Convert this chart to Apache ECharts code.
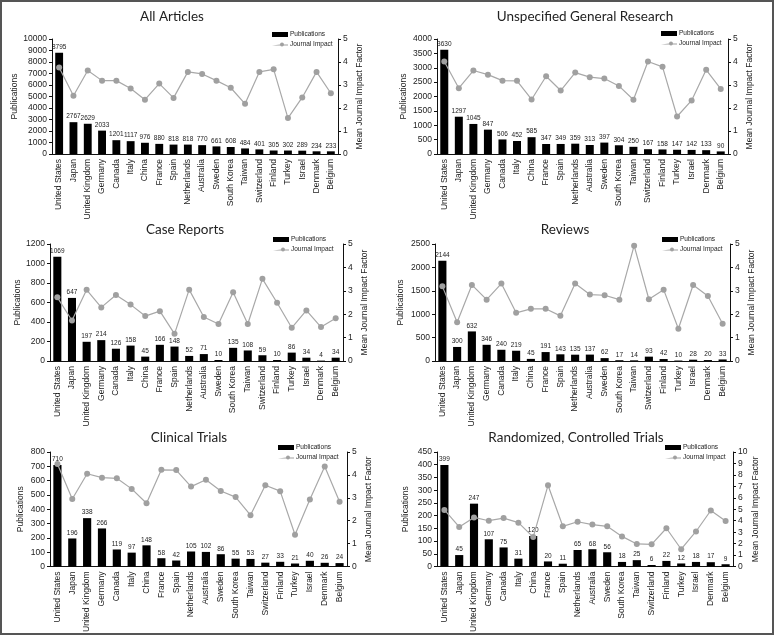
<!DOCTYPE html>
<html><head><meta charset="utf-8">
<script src="https://cdn.jsdelivr.net/npm/echarts@6/dist/echarts.min.js"></script>
<style>
html,body{margin:0;padding:0;background:#fff;}
#frame{position:absolute;left:0;top:0;width:770px;height:631px;border:2px solid #555;}
#c{position:absolute;left:0;top:0;width:774px;height:635px;}
</style></head><body>
<div id="c"></div><div id="frame"></div>
<script>
const countries = ["United States","Japan","United Kingdom","Germany","Canada","Italy","China","France","Spain","Netherlands","Australia","Sweden","South Korea","Taiwan","Switzerland","Finland","Turkey","Israel","Denmark","Belgium"];

const titles = ["All Articles","Unspecified General Research","Case Reports","Reviews","Clinical Trials","Randomized, Controlled Trials"];

const pubAll = [8795,2767,2629,2033,1201,1117,976,880,818,818,770,661,608,484,401,305,302,289,234,233];
const impAll = [3.76,2.53,3.63,3.19,3.19,2.85,2.36,3.06,2.44,3.57,3.48,3.19,2.88,2.18,3.57,3.68,1.56,2.46,3.57,2.64];

const pubGen = [3630,1297,1045,847,506,452,585,347,349,359,313,397,304,250,167,158,147,142,133,90];
const impGen = [4.02,2.86,3.63,3.45,3.19,3.18,2.37,3.38,2.76,3.54,3.34,3.28,2.96,2.36,4.02,3.79,1.63,2.33,3.66,2.83];

const pubCase = [1069,647,197,214,126,158,45,166,148,52,71,10,135,108,59,10,86,34,4,34];
const impCase = [2.72,1.73,3.04,2.29,2.82,2.41,1.92,2.13,1.16,3.05,1.88,1.58,2.94,1.58,3.51,2.49,1.42,2.16,1.45,1.83];

const pubRev = [2144,300,632,346,240,219,45,191,143,135,137,62,17,14,93,42,10,28,20,33];
const impRev = [3.19,1.66,3.25,2.62,3.31,2.06,2.23,2.23,1.93,3.31,2.84,2.81,2.62,4.93,2.64,3.05,1.38,3.25,2.78,1.59];

const pubClin = [710,196,338,266,119,97,148,58,42,105,102,86,55,53,27,33,21,40,26,24];
const impClin = [4.48,2.95,4.05,3.88,3.85,3.39,2.76,4.22,4.21,3.49,3.79,3.30,3.03,2.24,3.55,3.29,1.39,2.93,4.37,2.83];

const pubRct = [399,45,247,107,75,31,120,20,11,65,68,56,18,25,6,22,12,18,17,9];
const impRct = [4.94,3.46,4.29,4.0,4.23,3.83,2.57,7.09,3.51,3.91,3.66,3.51,2.63,1.97,1.94,3.34,1.51,3.06,4.89,3.97];

const leftMax = [10000,4000,1200,2500,800,450];
const leftInt = [1000,500,200,500,100,50];
const rightMax = [5,5,5,5,5,10];
const rightInt = [1,1,1,1,1,1];

const pubs = [pubAll,pubGen,pubCase,pubRev,pubClin,pubRct];
const imps = [impAll,impGen,impCase,impRev,impClin,impRct];

// layout
const grids = [
  {left:52, top:39, width:286, height:115},
  {left:437, top:39, width:291, height:115},
  {left:50, top:244, width:293, height:117},
  {left:435, top:244, width:295, height:117},
  {left:50, top:452, width:297, height:116},
  {left:437, top:452, width:296, height:116}
];
const titlePos = [[172,17],[585,17],[185,230],[565,230],[189,438],[576,438]];
const legendPos = [[272,31],[661,30],[273,236],[662,236],[278,444],[665,444]];
const nameGapL = [33,29,28,30,25,27];

const F = "Liberation Sans, Arial, sans-serif";
const opt = {animation:false, backgroundColor:'#fff', grid:[], xAxis:[], yAxis:[], series:[], legend:[], graphic:[]};

for (let i=0;i<6;i++){
  opt.grid.push(Object.assign({containLabel:false}, grids[i]));
  opt.xAxis.push({type:'category', gridIndex:i, data:countries,
    axisLine:{lineStyle:{color:'#111',width:1}},
    axisTick:{length:3,lineStyle:{color:'#111'}},
    axisLabel:{rotate:90, interval:0, fontSize:8.5, fontFamily:F, color:'#222', margin:5}});
  opt.yAxis.push({type:'value', gridIndex:i, min:0, max:leftMax[i], interval:leftInt[i], position:'left',
    name:'Publications', nameLocation:'middle', nameGap:nameGapL[i], nameRotate:90,
    nameTextStyle:{fontSize:8.5, fontFamily:F, color:'#222'},
    axisLine:{show:true,lineStyle:{color:'#111'}}, axisTick:{show:true,length:3,lineStyle:{color:'#111'}},
    splitLine:{show:false}, axisLabel:{fontSize:8.5, fontFamily:F, color:'#222', margin:5, formatter:v=>String(v)}});
  opt.yAxis.push({type:'value', gridIndex:i, min:0, max:rightMax[i], interval:rightInt[i], position:'right',
    name:'Mean Journal Impact Factor', nameLocation:'middle', nameGap:17, nameRotate:90,
    nameTextStyle:{fontSize:8.5, fontFamily:F, color:'#222'},
    axisLine:{show:true,lineStyle:{color:'#111'}}, axisTick:{show:true,length:3,lineStyle:{color:'#111'}},
    splitLine:{show:false}, axisLabel:{fontSize:8.5, fontFamily:F, color:'#222', margin:5}});
  opt.series.push({type:'bar', name:'Publications', xAxisIndex:i, yAxisIndex:2*i, data:pubs[i],
    barWidth:'55%', itemStyle:{color:'#000'}, z:2,
    label:{show:true, position:'top', distance:2, fontSize:6.5, fontFamily:F, color:'#222'}});
  opt.series.push({type:'line', name:'Journal Impact', xAxisIndex:i, yAxisIndex:2*i+1, data:imps[i],
    symbol:'circle', symbolSize:6, z:3,
    lineStyle:{color:'#a8a8a8', width:1.2}, itemStyle:{color:'#a0a0a0'}});
  opt.legend.push({orient:'vertical', left:legendPos[i][0], top:legendPos[i][1], itemGap:3,
    itemWidth:16, itemHeight:5, textStyle:{fontSize:6.5, fontFamily:F, color:'#222', padding:[0,0,0,-3]},
    padding:0,
    data:[{name:'Publications', icon:'rect'},{name:'Journal Impact', icon:'path://M0,5L8,5A2,2 0 1 1 8,5.01M8,5L16,5L16,6L0,6Z', itemStyle:{color:'#a0a0a0'}}]});
  opt.graphic.push({type:'text', x:titlePos[i][0], y:titlePos[i][1],
    style:{text:titles[i], fontSize:13.5, fontFamily:'Lato, Liberation Sans, sans-serif', fill:'#222', textAlign:'center', textVerticalAlign:'middle'}});
}
const chart = echarts.init(document.getElementById('c'), null, {renderer:'canvas'});
chart.setOption(opt);
</script></body></html>
